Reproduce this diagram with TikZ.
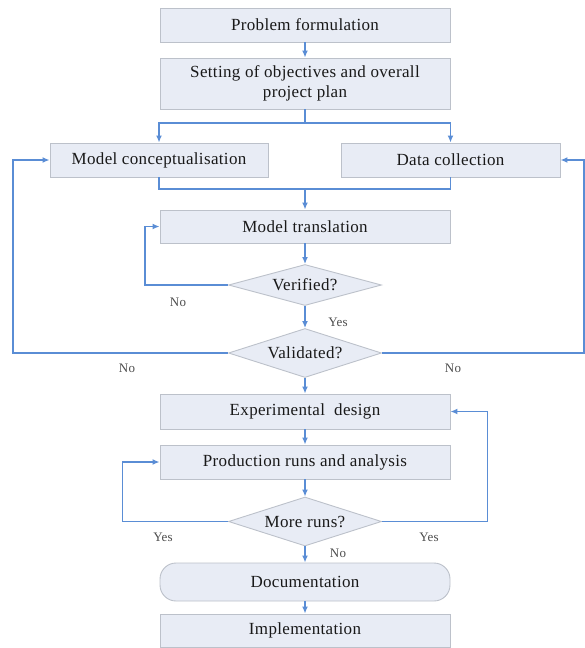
\documentclass[tikz,border=0pt]{standalone}
\usepackage{fontspec}
\setmainfont{Liberation Serif}[LetterSpace=2]
\usepackage{tikz}
\usetikzlibrary{shapes.geometric}
\usetikzlibrary{arrows.meta}
\usepackage{xcolor}
\definecolor{boxfill}{HTML}{E8ECF5}
\definecolor{boxline}{HTML}{BCC1CA}
\definecolor{flow}{HTML}{5A8DD5}

\begin{document}
\begin{tikzpicture}[x=1pt,y=-1pt,
box/.style={rectangle,draw=boxline,fill=boxfill,line width=0.9pt,minimum width=290pt,minimum height=34pt,inner sep=0pt,align=center,text=black!90,font=\fontsize{17}{20}\selectfont},
test/.style={diamond,aspect=3.6,draw=boxline,fill=boxfill,line width=0.9pt,minimum width=153pt,inner sep=0pt,text=black!90,font=\fontsize{17}{20}\selectfont},
link/.style={draw=flow,line width=1.4pt,-{Latex[length=7pt,width=6pt]}},
rail/.style={draw=flow,line width=1.4pt},
ans/.style={text=black!70,font=\fontsize{13}{15}\selectfont}]
%\useasboundingbox[draw=red] (0,0) rectangle (585,648);
\useasboundingbox (0,0) rectangle (585,648);

\node (Prob) [box] at (305,25) {Problem formulation};
\node (Set) [box,minimum height=51pt] at (305,83.5) {Setting of objectives and overall\\project plan};
\node (MC) [box,minimum width=218pt] at (159,160) {Model conceptualisation};
\node (DC) [box,minimum width=219pt] at (450.5,160) {Data collection};
\node (MT) [box,minimum height=33pt] at (305,226.5) {Model translation};
\node (Ver) [test,minimum height=41pt] at (305,285) {Verified?};
\node (Val) [test,minimum height=49pt] at (305,353) {Validated?};
\node (Exp) [box,minimum height=35pt] at (305,411.5) {Experimental\ \ design};
\node (Prod) [box] at (305,462) {Production runs and analysis};
\node (More) [test,minimum height=49pt] at (305,521.5) {More runs?};
\node (Doc) [box,minimum height=38pt,rounded corners=16pt] at (305,582) {Documentation};
\node (Impl) [box,minimum height=33pt] at (305,630.5) {Implementation};

\coordinate (Split) at (305,123);
\coordinate (Join) at (305,189);
\coordinate (LeftRail) at (13,0);
\coordinate (RightRail) at (584,0);

\draw [link] (Prob) -- (Set);
\draw [rail] (Set) -- (Split);
\draw [link] (Split) -| (MC.north);
\draw [link] (Split) -| (DC.north);
\draw [rail] (MC.south) |- (Join) -| (DC.south);
\draw [link] (Join) -- (MT);
\draw [link] (MT) -- (Ver);
\draw [link] (Ver.west) -- ++(-83,0) |- (MT.west);
\draw [link] (Ver) -- (Val);
\draw [link] (Val.west) -- (Val.west -| LeftRail) |- (MC.west);
\draw [link] (Val.east) -- (Val.east -| RightRail) |- (DC.east);
\draw [link] (Val) -- (Exp);
\draw [link] (Exp) -- (Prod);
\draw [link] (Prod) -- (More);
\draw [link] (More.west) -- ++(-105.5,0) |- (Prod.west);
\draw [link] (More.east) -- ++(105.5,0) |- (Exp.east);
\draw [link] (More) -- (Doc);
\draw [link] (Doc) -- (Impl);

\node (NoVer) [ans] at (178,302) {No};
\node (YesVer) [ans] at (338,322) {Yes};
\node (NoLeft) [ans] at (127,368) {No};
\node (NoRight) [ans] at (453,368) {No};
\node (YesLeft) [ans] at (163,537) {Yes};
\node (YesRight) [ans] at (429,537) {Yes};
\node (NoMore) [ans] at (338,553) {No};
\end{tikzpicture}
\end{document}
